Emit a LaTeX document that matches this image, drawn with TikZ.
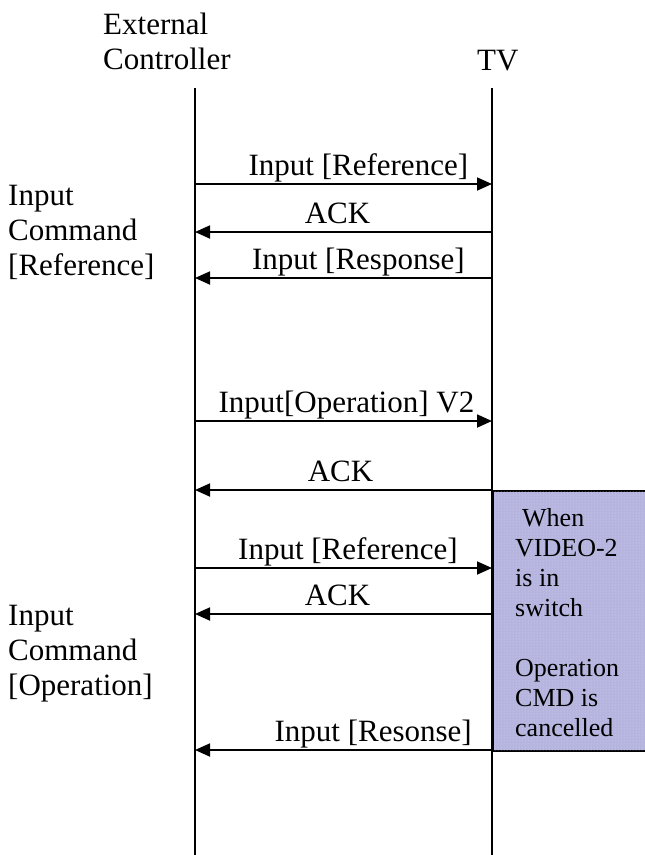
\documentclass[tikz,border=0pt]{standalone}
\usepackage{fontspec}
\setmainfont{Liberation Serif}
\usetikzlibrary{arrows.meta,patterns}

\definecolor{notefill}{RGB}{180,180,222}
\definecolor{notedots}{RGB}{212,212,245}

\tikzset{
  life/.style={line width=1.6pt},
  msg/.style={line width=1.8pt, -{Triangle[length=15pt,width=13pt]}},
  lbl/.style={anchor=base, yshift=9pt, inner sep=0pt},
  side/.style={anchor=north west, align=left, inner sep=0pt},
  notebox/.style={draw, line width=1.6pt, fill=notefill, anchor=north west,
    minimum width=160pt, minimum height=260pt, inner sep=0pt},
}

\begin{document}
\begin{tikzpicture}[x=1pt, y=-1pt, font=\fontsize{31}{35}\selectfont]
  \useasboundingbox (0,0) rectangle (645,855);
  \clip (0,0) rectangle (645,855);

  % shaded note on the TV side
  \node[notebox] (note) at (492,490) {};
  \fill[pattern=dots, pattern color=notedots] (note.north west) rectangle (note.south east);

  % heads of the two lifelines
  \node[side] (ec) at (103,13) {External\\Controller};
  \node[anchor=north west, inner sep=0pt] (tv) at (477,50) {TV};

  % lifelines
  \coordinate (ctop) at (195,88);
  \coordinate (cbot) at (195,855);
  \coordinate (ttop) at (492,88);
  \coordinate (tbot) at (492,855);
  \draw[life] (ctop) -- (cbot);
  \draw[life] (ttop) -- (tbot);

  % message end points
  \foreach \i/\y in {1/184,2/232,3/278,4/421,5/490,6/568,7/614,8/750} {
    \coordinate (c\i) at (195,\y);
    \coordinate (t\i) at (492,\y);
  }

  \draw[msg] (c1) -- node[lbl, pos=.55] (m1) {Input [Reference]} (t1);
  \draw[msg] (t2) -- node[lbl, pos=.52] (m2) {ACK} (c2);
  \draw[msg] (t3) -- node[lbl, pos=.45] (m3) {Input [Response]} (c3);
  \draw[msg] (c4) -- node[lbl, pos=.51] (m4) {Input[Operation] V2} (t4);
  \draw[msg] (t5) -- node[lbl, pos=.51] (m5) {ACK} (c5);
  \draw[msg] (c6) -- node[lbl, pos=.515] (m6) {Input [Reference]} (t6);
  \draw[msg] (t7) -- node[lbl, pos=.52] (m7) {ACK} (c7);
  \draw[msg] (t8) -- node[lbl, pos=.40] (m8) {Input [Resonse]} (c8);

  % phase labels on the left
  \node[side] (ref) at (8,185) {Input\\Command\\{[Reference]}};
  \node[side] (op) at (8,605) {Input\\Command\\{[Operation]}};

  \node[side, font=\fontsize{26}{30}\selectfont] (notetxt) at (515,508)
    {\hspace*{7pt}When\\VIDEO-2\\is in\\switch\\[30pt]Operation\\CMD is\\cancelled};
\end{tikzpicture}
\end{document}
